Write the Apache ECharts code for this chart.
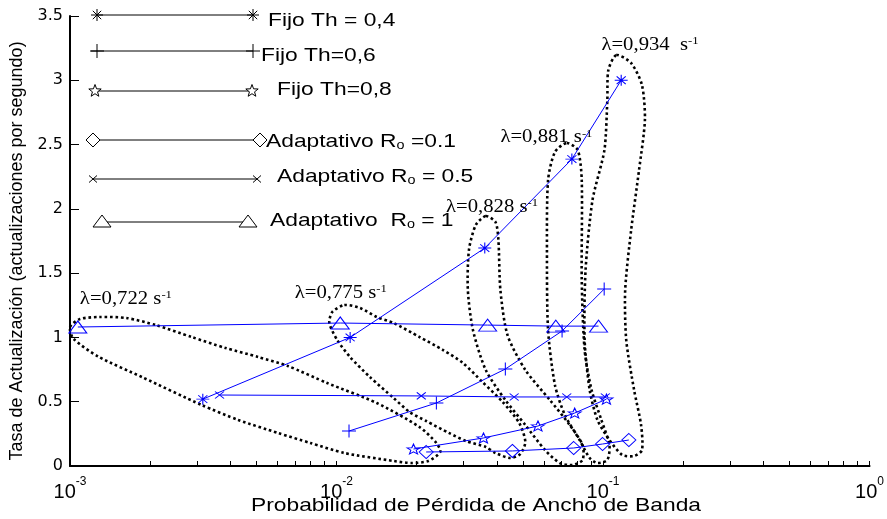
<!DOCTYPE html>
<html><head><meta charset="utf-8">
<script src="https://cdn.jsdelivr.net/npm/echarts/dist/echarts.min.js"></script>
<style>html,body{margin:0;padding:0;background:#fff}#c{width:887px;height:519px}</style>
</head><body><div id="c"></div>
<script>
// ---------- data (x = Probabilidad de Pérdida, y = actualizaciones/s) ----------
const fijo04  = [[0.00315,0.52],[0.01125,1.00],[0.036,1.695],[0.0764,2.387],[0.117,3.00]];
const fijo06  = [[0.01114,0.272],[0.0237,0.49],[0.043,0.754],[0.0702,1.05],[0.101,1.376]];
const fijo08  = [[0.01945,0.132],[0.0356,0.218],[0.057,0.311],[0.0783,0.412],[0.103,0.52]];
const adapt01 = [[0.0217,0.109],[0.0457,0.117],[0.0776,0.14],[0.0996,0.171],[0.125,0.202]];
const adapt05 = [[0.00364,0.552],[0.0208,0.545],[0.0464,0.537],[0.0731,0.537],[0.102,0.537]];
const adapt1  = [[0.00107,1.081],[0.01033,1.112],[0.0369,1.096],[0.0665,1.088],[0.0962,1.088]];

// dotted groupings (outline anchors)
const loop0722 = [[0.00100,1.081],[0.00109,1.143],[0.00129,1.159],[0.00163,1.151],[0.00210,1.096],[0.00286,1.003],[0.00383,0.918],[0.00508,0.848],[0.00656,0.778],[0.00923,0.645],[0.01416,0.490],[0.0205,0.303],[0.0237,0.179],[0.0245,0.109],[0.0221,0.039],[0.0191,0.023],[0.0164,0.039],[0.0107,0.101],[0.00798,0.179],[0.00603,0.257],[0.00428,0.358],[0.00312,0.474],[0.00187,0.690],[0.00128,0.850],[0.00103,0.990]];
const loop0775 = [[0.0107,1.252],[0.01225,1.229],[0.01416,1.159],[0.01637,1.112],[0.0205,1.003],[0.0251,0.902],[0.0298,0.801],[0.0353,0.653],[0.0420,0.498],[0.0485,0.334],[0.0511,0.187],[0.0489,0.093],[0.0449,0.062],[0.0395,0.101],[0.0363,0.148],[0.0306,0.194],[0.0264,0.257],[0.0217,0.350],[0.0188,0.420],[0.01637,0.529],[0.01334,0.692],[0.01124,0.848],[0.01006,0.980],[0.00940,1.112],[0.00964,1.198]];
const loop0828 = [[0.0363,1.944],[0.0395,1.897],[0.0405,1.757],[0.0412,1.369],[0.0438,1.019],[0.0511,0.747],[0.0632,0.513],[0.0750,0.319],[0.0838,0.163],[0.0838,0.047],[0.0769,0.008],[0.0689,0.023],[0.0606,0.124],[0.0511,0.319],[0.0430,0.513],[0.0363,0.747],[0.0325,1.058],[0.0311,1.369],[0.0314,1.680],[0.0333,1.874]];
const loop0881 = [[0.0731,2.512],[0.0804,2.457],[0.0832,2.224],[0.0832,1.446],[0.0853,0.902],[0.0906,0.591],[0.0986,0.358],[0.1057,0.163],[0.1038,0.047],[0.0953,0.023],[0.0891,0.062],[0.0817,0.202],[0.0719,0.397],[0.0660,0.630],[0.0622,1.058],[0.0616,1.680],[0.0622,2.224],[0.0660,2.442]];
const loop0934 = [[0.1122,3.196],[0.1275,3.134],[0.140,2.963],[0.1436,2.691],[0.1365,2.302],[0.1275,1.835],[0.1211,1.369],[0.1222,0.980],[0.1308,0.591],[0.1389,0.319],[0.140,0.124],[0.1308,0.078],[0.118,0.086],[0.1057,0.202],[0.0953,0.358],[0.0891,0.591],[0.0853,0.980],[0.0860,1.524],[0.0913,2.068],[0.1012,2.457],[0.1038,2.846],[0.1047,3.079]];

const lambdaPos  = [[0.001089,1.299],[0.00697,1.345],[0.02576,2.014],[0.0412,2.558],[0.0986,3.274]];
const lambdaText = ['0,722 s','0,775 s','0,828 s','0,881 s','0,934  s'];

const xTickLabels = [0.001,0.01,0.1,1];
const xMinorTicks = [0.002,0.003,0.004,0.005,0.006,0.007,0.008,0.009,0.02,0.03,0.04,0.05,0.06,0.07,0.08,0.09,0.2,0.3,0.4,0.5,0.6,0.7,0.8,0.9];
const legendNames = ['Fijo Th = 0,4','Fijo Th=0,6','Fijo Th=0,8','Adaptativo R{sub|o} =0.1','Adaptativo R{sub|o} = 0.5','Adaptativo  R{sub|o} = 1'];

// ---------- styling ----------
const BLUE = '#0000ff';
const SYM = {
  asterisk: 'path://M0,6L12,6M6,0L6,12M1.8,1.8L10.2,10.2M10.2,1.8L1.8,10.2',
  plus: 'path://M0,7L14,7M7,0L7,14',
  star: 'path://M6.5,0L8.087,4.316L12.68,4.491L9.068,7.334L10.321,11.759L6.5,9.2L2.679,11.759L3.932,7.334L0.32,4.491L4.913,4.316Z',
  diamond: 'path://M7,0L14,7L7,14L0,7Z',
  cross: 'path://M0,0L8,7M8,0L0,7',
  triangle: 'path://M9,0L18,12L0,12Z'
};
// legend marker glyphs, as line segments or polygons around (0,0)
const GLYPH = {
  asterisk: {lines:[[-6,0,6,0],[0,-6,0,6],[-4.2,-4.2,4.2,4.2],[4.2,-4.2,-4.2,4.2]]},
  plus: {lines:[[-7,0,7,0],[0,-7,0,7]]},
  cross: {lines:[[-4,-3.5,4,3.5],[4,-3.5,-4,3.5]]},
  star: {poly:[[0,-6.5],[1.587,-2.184],[6.18,-2.009],[2.568,0.834],[3.821,5.259],[0,2.7],[-3.821,5.259],[-2.568,0.834],[-6.18,-2.009],[-1.587,-2.184]]},
  diamond: {poly:[[0,-7],[7,0],[0,7],[-7,0]]},
  triangle: {poly:[[0,-7],[9,5],[-9,5]]}
};
const legendLayout = [
  {sym:'asterisk', y:15,  x1:97, x2:253, m1:97,  m2:253, tx:268, ty:21},
  {sym:'plus',     y:51,  x1:91, x2:253, m1:97,  m2:253, tx:261, ty:56},
  {sym:'star',     y:91,  x1:95, x2:252, m1:95,  m2:252, tx:277, ty:90},
  {sym:'diamond',  y:140, x1:93, x2:260, m1:93,  m2:260, tx:266, ty:142},
  {sym:'cross',    y:179, x1:93, x2:257, m1:93,  m2:257, tx:277, ty:177},
  {sym:'triangle', y:222, x1:102,x2:248, m1:102, m2:248, tx:270, ty:221}
];

const chart = echarts.init(document.getElementById('c'), null, {renderer:'canvas'});

function lineS(name, data){
  return {type:'line', name, data, showSymbol:false, symbol:'none', lineStyle:{color:BLUE,width:1},
    silent:true, animation:false, z:3};
}
function markS(name, data, sym, size){
  return {type:'scatter', name:name+'_m', data, symbol:SYM[sym], symbolSize:size,
    itemStyle:{color:'rgba(0,0,0,0)', borderColor:BLUE, borderWidth:1, opacity:1},
    silent:true, animation:false, z:4};
}
function loopS(pts){
  return {type:'custom', data:pts, silent:true, animation:false, z:2, clip:false,
    renderItem:function(params, api){
      if (params.dataIndex !== 0) return null;
      const points = pts.map(function(p){ return api.coord(p); });
      return {type:'polygon', shape:{points:points, smooth:0.25},
        style:{fill:'none', stroke:'#000', lineWidth:2.6, lineDash:[2.6,2.8]}};
    }};
}

const series = [
  lineS('Fijo Th=0,4', fijo04), markS('Fijo Th=0,4', fijo04, 'asterisk', [13,11]),
  lineS('Fijo Th=0,6', fijo06), markS('Fijo Th=0,6', fijo06, 'plus', [14,13]),
  lineS('Fijo Th=0,8', fijo08), markS('Fijo Th=0,8', fijo08, 'star', [13,10]),
  lineS('Adaptativo Ro=0.1', adapt01), markS('Adaptativo Ro=0.1', adapt01, 'diamond', [14,13]),
  lineS('Adaptativo Ro=0.5', adapt05), markS('Adaptativo Ro=0.5', adapt05, 'cross', [9,7]),
  lineS('Adaptativo Ro=1', adapt1), markS('Adaptativo Ro=1', adapt1, 'triangle', [18,12]),
  loopS(loop0722), loopS(loop0775), loopS(loop0828), loopS(loop0881), loopS(loop0934),
  {type:'custom', data:lambdaPos, silent:true, animation:false, z:5, clip:false,
    renderItem:function(params, api){
      const p = api.coord([api.value(0), api.value(1)]);
      return {type:'text', x:p[0], y:p[1], scaleX:1.15,
        style:{text:'λ=' + lambdaText[params.dataIndex] + '{sup|-1}', fontSize:18, fontFamily:'"Liberation Serif", serif',
          fill:'#000', align:'left', verticalAlign:'middle',
          rich:{sup:{fontSize:11, fontFamily:'"Liberation Serif", serif', verticalAlign:'top', fill:'#000'}}}};
    }}
];

// legend drawn as graphics (manual in-plot legend of the original)
const graphics = [];
legendLayout.forEach(function(L, i){
  graphics.push({type:'line', shape:{x1:L.x1, y1:L.y, x2:L.x2, y2:L.y}, style:{stroke:'#000', lineWidth:1}, z:10});
  [L.m1, L.m2].forEach(function(mx){
    const g = GLYPH[L.sym];
    if (g.lines) {
      g.lines.forEach(function(s){
        graphics.push({type:'line', shape:{x1:mx+s[0], y1:L.y+s[1], x2:mx+s[2], y2:L.y+s[3]}, style:{stroke:'#000', lineWidth:1}, z:11});
      });
    } else {
      graphics.push({type:'polygon', shape:{points:g.poly.map(function(p){return [mx+p[0], L.y+p[1]];})},
        style:{fill:'#fff', stroke:'#000', lineWidth:1}, z:11});
    }
  });
  graphics.push({type:'text', x:L.tx, y:L.ty, scaleX:1.2, z:11,
    style:{text:legendNames[i], fontSize:19, fontFamily:'"Liberation Sans", Arial, sans-serif', fill:'#000',
      align:'left', verticalAlign:'middle',
      rich:{sub:{fontSize:12, fontFamily:'"Liberation Sans", Arial, sans-serif', verticalAlign:'bottom', fill:'#000'}}}});
});
graphics.push({type:'text', x:476, y:506, scaleX:1.2, z:11,
  style:{text:'Probabilidad de Pérdida de Ancho de Banda', fontSize:19, fontFamily:'"Liberation Sans", Arial, sans-serif', fill:'#000',
    align:'center', verticalAlign:'middle'}});
graphics.push({type:'text', x:17, y:251, rotation:Math.PI/2, z:11,
  style:{text:'Tasa de Actualización (actualizaciones por segundo)', fontSize:18, fontFamily:'"Liberation Sans", Arial, sans-serif', fill:'#000',
    align:'center', verticalAlign:'middle'}});

chart.setOption({
  animation:false,
  backgroundColor:'#fff',
  grid:{left:70, right:10, top:16, bottom:53, containLabel:false},
  xAxis:{type:'log', logBase:10, min:0.001, max:1,
    axisLine:{show:true, onZero:false, lineStyle:{color:'#000', width:2}},
    axisTick:{show:true, inside:true, length:5, lineStyle:{color:'#000', width:1},
      customValues: xTickLabels.concat(xMinorTicks)},
    minorTick:{show:false}, splitLine:{show:false},
    axisLabel:{show:true, customValues:xTickLabels, margin:10, color:'#000',
      formatter:function(v){ const e = Math.round(Math.log10(v)); return '{b|10}{s|' + e + '}'; },
      rich:{b:{fontSize:20, fontFamily:'"Liberation Sans", Arial, sans-serif', lineHeight:26, verticalAlign:'bottom', color:'#000'},
            s:{fontSize:12, fontFamily:'"Liberation Sans", Arial, sans-serif', verticalAlign:'top', color:'#000'}}}},
  yAxis:{type:'value', min:0, max:3.5, interval:0.5,
    axisLine:{show:true, lineStyle:{color:'#000', width:2}},
    axisTick:{show:true, inside:true, length:9, lineStyle:{color:'#000', width:1}},
    splitLine:{show:false},
    axisLabel:{margin:7, color:'#000', fontSize:16, fontFamily:'"DejaVu Sans", sans-serif'}},
  series:series,
  graphic:{elements:graphics}
});
</script></body></html>
